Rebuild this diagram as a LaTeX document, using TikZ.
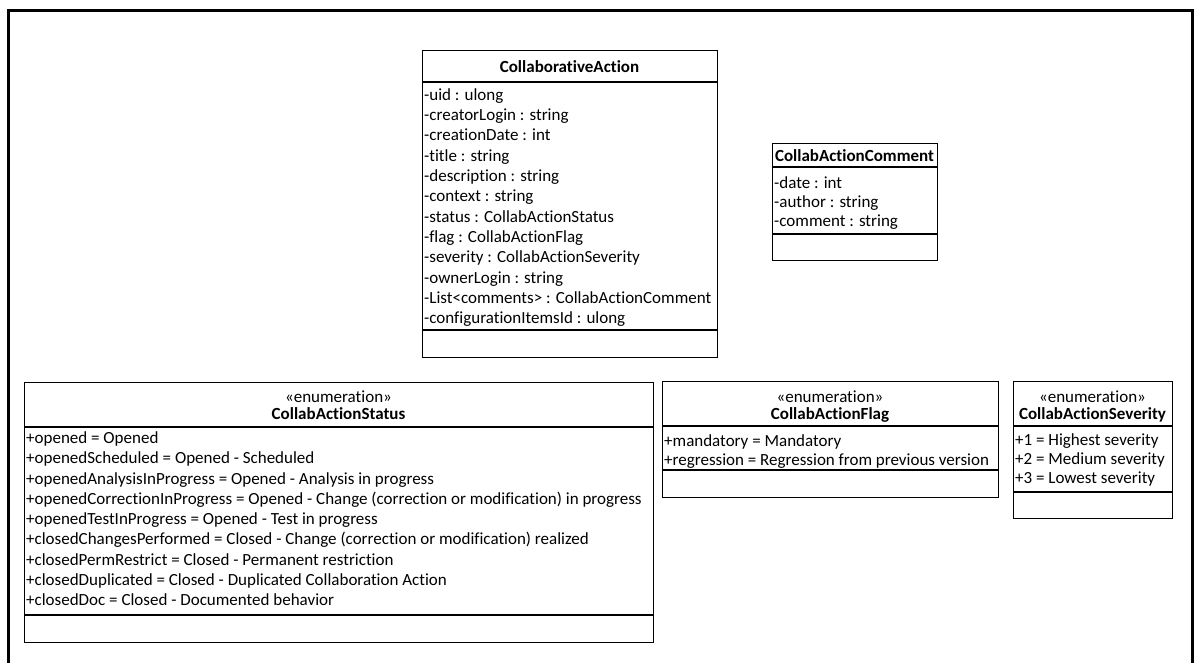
\documentclass[tikz,border=0pt]{standalone}
\usepackage{fontspec}
\setmainfont{Carlito}[Ligatures=NoCommon]
\begin{document}
\begin{tikzpicture}[x=1pt,y=-1pt,
  box/.style={draw, line width=1.3pt, anchor=north west, inner sep=0pt},
  sep/.style={line width=1.3pt},
  attr/.style={anchor=base west, inner sep=0pt, font=\fontsize{17}{20}\selectfont},
  title/.style={anchor=base, inner sep=0pt, font=\fontsize{17}{20}\selectfont\bfseries},
  stereo/.style={anchor=base, inner sep=0pt, font=\fontsize{17}{20}\selectfont},
  frame/.style={draw, line width=3pt}]
\useasboundingbox (0,0) rectangle (1195,662);
\clip (0,0) rectangle (1195,662);
\draw[frame] (8.5,10.5) rectangle (1192,700);

% CollaborativeAction
\node[box, minimum width=295pt, minimum height=307pt] (ca) at (422,50) {};
\draw[sep] (422,82) coordinate (ca1) -- (717,82) coordinate (ca2);
\draw[sep] (422,330) coordinate (ca3) -- (717,330) coordinate (ca4);
\node[title] (caT) at (569.5,72) {CollaborativeAction};
\foreach \t [count=\i] in {{-uid : ulong},{-creatorLogin : string},{-creationDate : int},{-title : string},{-description : string},{-context : string},{-status : CollabActionStatus},{-flag : CollabActionFlag},{-severity : CollabActionSeverity},{-ownerLogin : string},{-List<comments> : CollabActionComment},{-configurationItemsId : ulong}}
  \node[attr] (caA\i) at (424,{100+(\i-1)*20.35}) {\t};

% CollabActionComment
\node[box, minimum width=165pt, minimum height=117pt] (cc) at (772,143) {};
\draw[sep] (772,167) -- (937,167);
\draw[sep] (772,234) -- (937,234);
\node[title] (ccT) at (854.5,161) {CollabActionComment};
\foreach \t [count=\i] in {{-date : int},{-author : string},{-comment : string}}
  \node[attr] (ccA\i) at (774,{188+(\i-1)*19}) {\t};

% CollabActionStatus
\node[box, minimum width=629pt, minimum height=260pt] (st) at (24,382) {};
\draw[sep] (24,427) -- (653,427);
\draw[sep] (24,615) -- (653,615);
\node[stereo] (stS) at (338.5,402.5) {«enumeration»};
\node[title] (stT) at (338.5,419) {CollabActionStatus};
\foreach \t [count=\i] in {{+opened = Opened},{+openedScheduled = Opened - Scheduled},{+openedAnalysisInProgress = Opened - Analysis in progress},{+openedCorrectionInProgress = Opened - Change (correction or modification) in progress},{+openedTestInProgress = Opened - Test in progress},{+closedChangesPerformed = Closed - Change (correction or modification) realized},{+closedPermRestrict = Closed - Permanent restriction},{+closedDuplicated = Closed - Duplicated Collaboration Action},{+closedDoc = Closed - Documented behavior}}
  \node[attr] (stA\i) at (26,{443.5+(\i-1)*20.25}) {\t};

% CollabActionFlag
\node[box, minimum width=336pt, minimum height=116pt] (fl) at (662,381) {};
\draw[sep] (662,426) -- (998,426);
\draw[sep] (662,470) -- (998,470);
\node[stereo] (flS) at (830,402.5) {«enumeration»};
\node[title] (flT) at (830,419) {CollabActionFlag};
\foreach \t [count=\i] in {{+mandatory = Mandatory},{+regression = Regression from previous version}}
  \node[attr] (flA\i) at (664,{446+(\i-1)*19}) {\t};

% CollabActionSeverity
\node[box, minimum width=159pt, minimum height=137pt] (sv) at (1013,381) {};
\draw[sep] (1013,426) -- (1172,426);
\draw[sep] (1013,492) -- (1172,492);
\node[stereo] (svS) at (1092.5,402.5) {«enumeration»};
\node[title] (svT) at (1092.5,419) {CollabActionSeverity};
\foreach \t [count=\i] in {{+1 = Highest severity},{+2 = Medium severity},{+3 = Lowest severity}}
  \node[attr] (svA\i) at (1015,{445.5+(\i-1)*19}) {\t};
\end{tikzpicture}
\end{document}
